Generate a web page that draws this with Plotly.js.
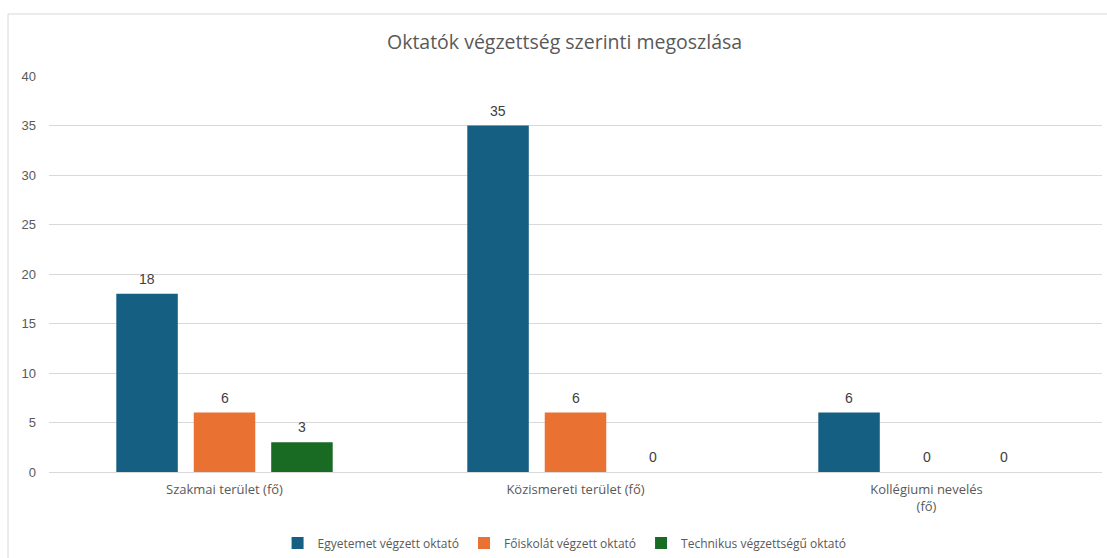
<!DOCTYPE html>
<html>
<head>
<meta charset="utf-8">
<script src="https://cdn.plot.ly/plotly-3.0.1.min.js"></script>
<style>html,body{margin:0;padding:0;background:#fff;}#chart{width:1107px;height:558px;}</style>
</head>
<body>
<div id="chart"></div>
<script>
const categories = ["Szakmai terület (fő)", "Közismereti terület (fő)", "Kollégiumi nevelés<br>(fő)"];
const seriesNames = ["Egyetemet végzett oktató", "Főiskolát végzett oktató", "Technikus végzettségű oktató"];
const egyetem = [18, 35, 6];
const foiskola = [6, 6, 0];
const technikus = [3, 0, 0];
const colors = ["#156082", "#E97132", "#196B24"];

const textFont = "'Open Sans', sans-serif";
const numFont = "'Liberation Sans', Arial, sans-serif";
const values = [egyetem, foiskola, technikus];
const bargap = 0.338;
const nSeries = values.length;
const slot = (1 - bargap) / nSeries;

const traces = values.map((v, i) => ({
  type: "bar",
  name: seriesNames[i],
  x: categories,
  y: v,
  marker: {color: colors[i]},
  hoverinfo: "x+y+name"
}));

// data labels: placed at each bar's position on the category axis
const annotations = [];
values.forEach((v, i) => {
  v.forEach((val, j) => {
    annotations.push({
      xref: "x", yref: "y",
      x: j + (i - (nSeries - 1) / 2) * slot,
      y: val,
      text: String(val),
      showarrow: false,
      yanchor: "middle",
      yshift: 15,
      font: {family: numFont, size: 14, color: "#404040"}
    });
  });
});

const layout = {
  width: 1107, height: 558,
  margin: {l: 49, r: 5, t: 76, b: 86},
  paper_bgcolor: "#fff", plot_bgcolor: "#fff",
  font: {family: textFont, color: "#595959"},
  title: {text: "Oktatók végzettség szerinti megoszlása", x: 0.51, xanchor: "center", y: 0.925, yanchor: "middle", font: {size: 19.5, color: "#595959", family: textFont}},
  barmode: "group",
  bargap: bargap,
  bargroupgap: 0.206,
  showlegend: true,
  legend: {orientation: "h", xref: "container", yref: "container", x: 0.51, xanchor: "center", y: 0.027, yanchor: "middle", font: {size: 12, color: "#595959", family: textFont}, itemwidth: 30, traceorder: "normal"},
  xaxis: {type: "category", showline: false, ticks: "", tickfont: {size: 13, color: "#595959", family: textFont}, ticklabelstandoff: 8},
  yaxis: {range: [0, 40], dtick: 5, gridcolor: "#d9d9d9", gridwidth: 1, zeroline: true, zerolinecolor: "#d9d9d9", zerolinewidth: 1, showline: false, ticks: "", tickfont: {size: 13, color: "#595959", family: numFont}, ticklabelstandoff: 12},
  annotations: annotations,
  shapes: [{type: "rect", xref: "paper", yref: "paper", x0: -0.0389, x1: 1.1, y0: -0.3, y1: 1.1566, line: {color: "#d9d9d9", width: 1}, fillcolor: "rgba(0,0,0,0)", layer: "below"}]
};
Plotly.newPlot("chart", traces, layout, {displayModeBar: false});
</script>
</body>
</html>
